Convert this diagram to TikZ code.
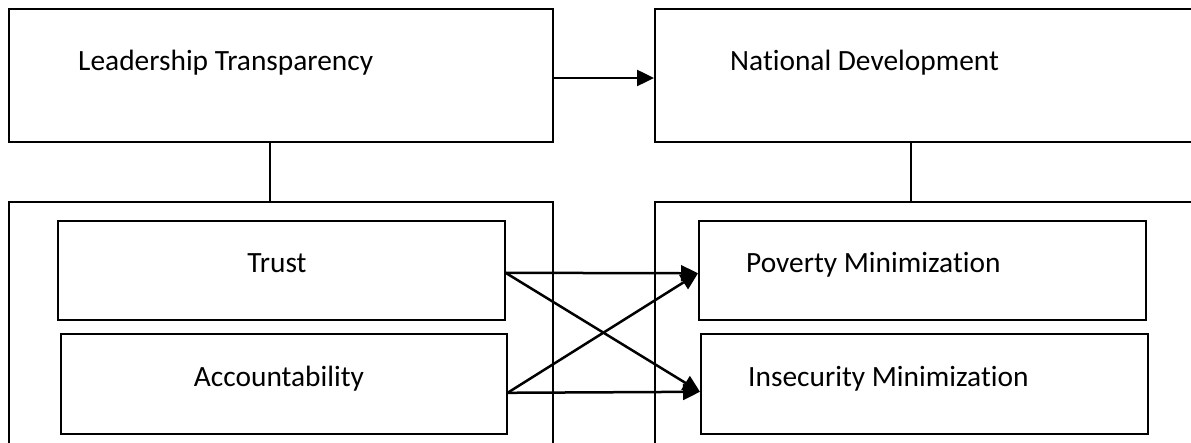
\documentclass[tikz,border=0pt]{standalone}
\usepackage{fontspec}
\setmainfont{Carlito}[Ligatures={NoCommon}]
\usetikzlibrary{arrows.meta}
\begin{document}
\begin{tikzpicture}[x=1bp,y=-1bp,
  outerbox/.style={draw, line width=2bp, rectangle, inner sep=0pt, anchor=north west},
  innerbox/.style={draw, line width=1.6bp, rectangle, inner sep=0pt, anchor=north west},
  lbl/.style={font=\fontsize{29.5}{35}\selectfont, inner sep=0pt},
  arr/.style={line width=2.5bp, -{Triangle[length=17bp,width=16bp]}},
  link/.style={line width=2bp}]
\useasboundingbox (0,0) rectangle (1191,443);
\clip (0,0) rectangle (1191,443);
% outer boxes
\node[outerbox, minimum width=544bp, minimum height=133bp] (lt) at (8,8) {};
\node[outerbox, minimum width=560bp, minimum height=133bp] (nd) at (654,8) {};
\node[outerbox, minimum width=544bp, minimum height=280bp] (lb) at (8,201) {};
\node[outerbox, minimum width=560bp, minimum height=280bp] (rb) at (654,201) {};
% inner boxes
\node[innerbox, minimum width=447bp, minimum height=99bp] (trust) at (57,220) {};
\node[innerbox, minimum width=446bp, minimum height=100bp] (acc) at (60,333) {};
\node[innerbox, minimum width=447bp, minimum height=99bp] (pov) at (698,220) {};
\node[innerbox, minimum width=447bp, minimum height=100bp] (ins) at (700,333) {};
% labels
\node[lbl, anchor=base west] (ltl) at (78,71) {Leadership Transparency};
\node[lbl, anchor=base west] (ndl) at (730,71) {National Development};
\node[lbl, anchor=base] (trustl) at (277,273) {Trust};
\node[lbl, anchor=base] (accl) at (279,387) {Accountability};
\node[lbl, anchor=base west] (povl) at (746,273) {Poverty Minimization};
\node[lbl, anchor=base west] (insl) at (748,387) {Insecurity Minimization};
% connectors
\draw[arr] ([yshift=-2.5bp]lt.east) -- ([yshift=-2.5bp]nd.west);
\draw[link] ([xshift=-11bp]lt.south) -- ([xshift=-11bp]lb.north);
\draw[link] ([xshift=-24bp]nd.south) -- ([xshift=-24bp]rb.north);
\draw[arr] ([yshift=-2.5bp]trust.east) -- ([yshift=-3bp]pov.west);
\draw[arr] ([yshift=-2.5bp]trust.east) -- ([yshift=-8bp]ins.west);
\draw[arr] ([yshift=-9bp]acc.east) -- ([yshift=-3bp]pov.west);
\draw[arr] ([yshift=-9bp]acc.east) -- ([yshift=-8bp]ins.west);
\end{tikzpicture}
\end{document}
